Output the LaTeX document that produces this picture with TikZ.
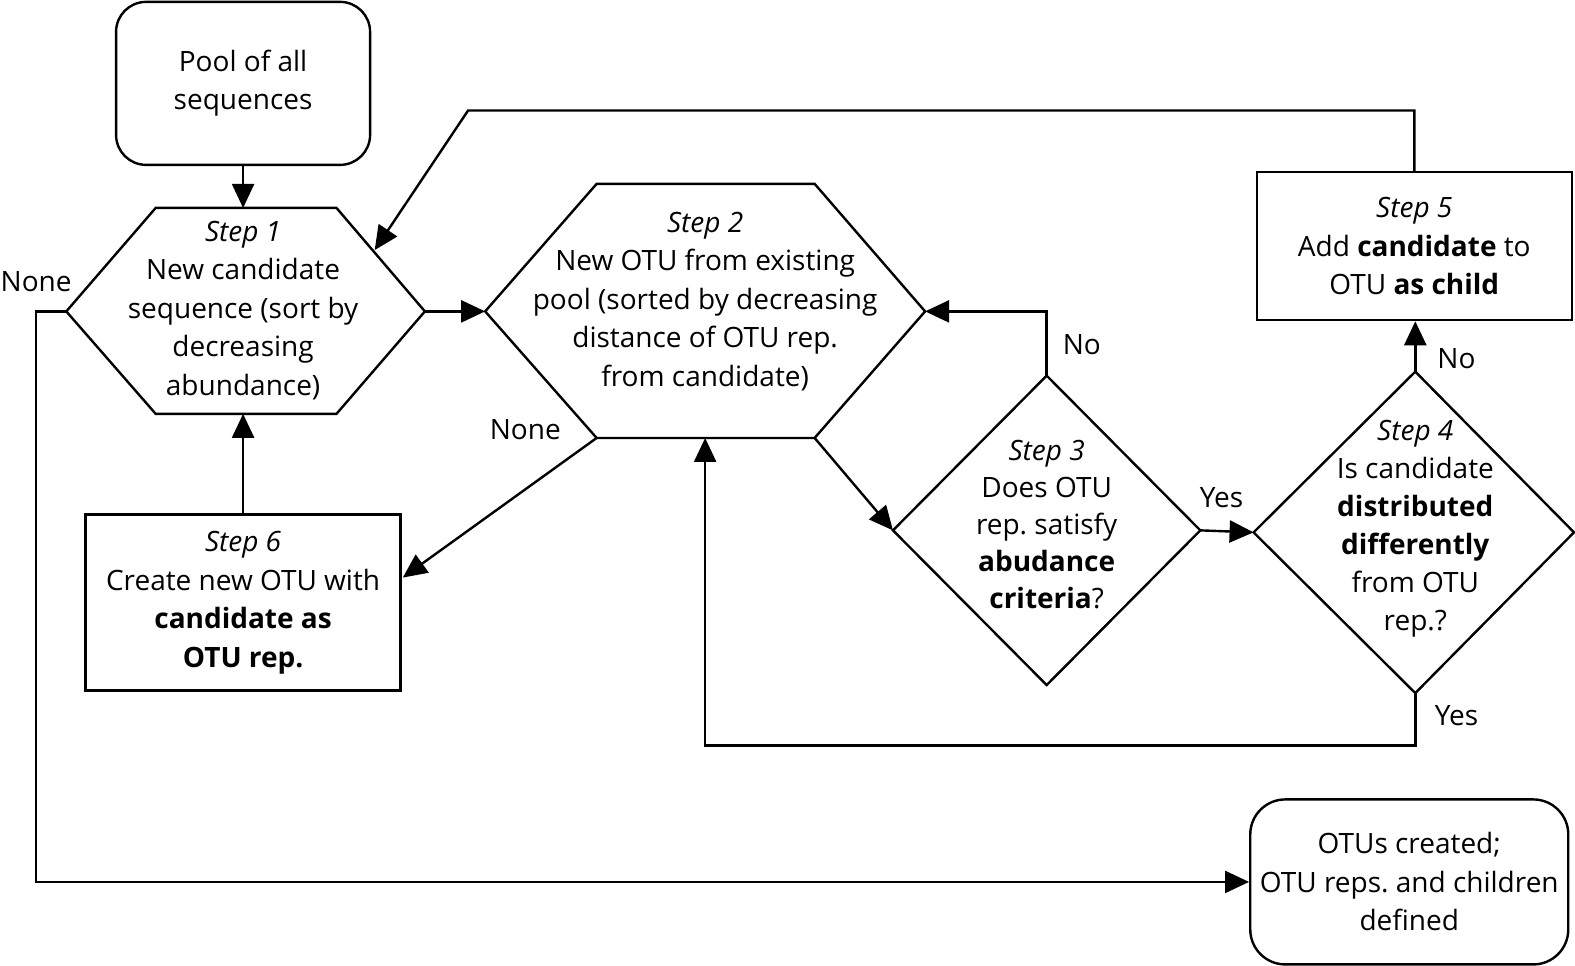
\documentclass[tikz,border=0pt]{standalone}
\usepackage{fontspec}
\setmainfont{Open Sans}
\usetikzlibrary{arrows.meta}
\frenchspacing
\begin{document}
\begin{tikzpicture}[x=1.00446pt,y=-1.00446pt,line width=2.4pt,
  arr/.style={-{Triangle[length=24pt,width=22pt]}},
  txt/.style={align=center,font=\fontsize{28}{38.5}\selectfont,inner sep=0pt},
  lbl/.style={font=\fontsize{28}{30}\selectfont,inner sep=0pt},
  stepbox/.style={draw,txt},
  roundbox/.style={draw,txt,rounded corners=30pt}]
\useasboundingbox (0,0) rectangle (1568,961);

% Pool
\node[roundbox,minimum width=254pt,minimum height=163pt] (pool) at (242,83) {Pool of all\\sequences};

% Step 1 hexagon
\coordinate (h1tl) at (155,207); \coordinate (h1tr) at (335,207);
\coordinate (h1r) at (423,310); \coordinate (h1br) at (335,412);
\coordinate (h1bl) at (155,412); \coordinate (h1l) at (66,310);
\coordinate (h1t) at (242,207); \coordinate (h1b) at (242,412);
\draw (h1tl) -- (h1tr) -- (h1r) -- (h1br) -- (h1bl) -- (h1l) -- cycle;
\node[txt] (s1) at (242,309) {\textit{Step 1}\\New candidate\\sequence (sort by\\decreasing\\abundance)};

% Step 2 hexagon
\coordinate (h2tl) at (594,183); \coordinate (h2tr) at (811,183);
\coordinate (h2r) at (921,310); \coordinate (h2br) at (811,436);
\coordinate (h2bl) at (594,436); \coordinate (h2l) at (483,310);
\coordinate (h2b) at (702,436);
\draw (h2tl) -- (h2tr) -- (h2r) -- (h2br) -- (h2bl) -- (h2l) -- cycle;
\node[txt] (s2) at (702,300) {\textit{Step 2}\\New OTU from existing\\pool (sorted by decreasing\\distance of OTU rep.\\from candidate)};

% Step 3 diamond
\coordinate (d3t) at (1042,374); \coordinate (d3r) at (1195,528);
\coordinate (d3b) at (1042,682); \coordinate (d3l) at (889,528);
\draw (d3t) -- (d3r) -- (d3b) -- (d3l) -- cycle;
\node[txt,font=\fontsize{28}{37}\selectfont] (s3) at (1042,522) {\textit{Step 3}\\Does OTU\\rep. satisfy\\\textbf{abudance}\\\textbf{criteria}?};

% Step 4 diamond
\coordinate (d4t) at (1409,370); \coordinate (d4r) at (1567,530);
\coordinate (d4b) at (1409,690); \coordinate (d4l) at (1248,530);
\draw (d4t) -- (d4r) -- (d4b) -- (d4l) -- cycle;
\node[txt,font=\fontsize{28}{38}\selectfont] (s4) at (1409,526) {\textit{Step 4}\\Is candidate\\\textbf{distributed}\\\textbf{differently}\\from OTU\\rep.?};

% Step 5
\node[stepbox,minimum width=315pt,minimum height=148pt] (s5) at (1408,245) {\textit{Step 5}\\Add \textbf{candidate} to\\OTU \textbf{as child}};

% Step 6
\node[stepbox,minimum width=315pt,minimum height=176pt] (s6) at (242,600) {\textit{Step 6}\\Create new OTU with\\\textbf{candidate as}\\\textbf{OTU rep.}};

% Final
\node[roundbox,rounded corners=35pt,minimum width=318pt,minimum height=165pt] (fin) at (1403,878) {OTUs created;\\OTU reps. and children\\defined};

% helper coordinates
\coordinate (t6) at (401,575);
\coordinate (c1) at (466,110);
\coordinate (t1) at (373,249);
\coordinate (cl) at (36,310);

% connectors
\draw[arr] (pool.south) -- (h1t);
\draw[arr] (h1r) -- (h2l);
\draw[arr] (s6.north) -- (h1b);
\draw[arr] (h2bl) -- (t6);
\draw[arr] (h2br) -- (d3l);
\draw[arr] (d3t) |- (h2r);
\draw[arr] (d3r) -- (d4l);
\draw[arr] (d4t) -- (d4t |- s5.south);
\draw[arr] (d4b) -- ++(0,52) -| (h2b);
\draw[arr] (s5.north) |- (c1) -- (t1);
\draw[arr] (h1l) -- (cl) |- (fin.west);

% labels
\node[lbl] (n1) at (36,280) {None};
\node[lbl] (n2) at (523,428) {None};
\node[lbl] (n3) at (1077,343) {No};
\node[lbl] (n4) at (1216,495) {Yes};
\node[lbl] (n5) at (1450,357) {No};
\node[lbl] (n6) at (1450,712) {Yes};
\end{tikzpicture}
\end{document}
